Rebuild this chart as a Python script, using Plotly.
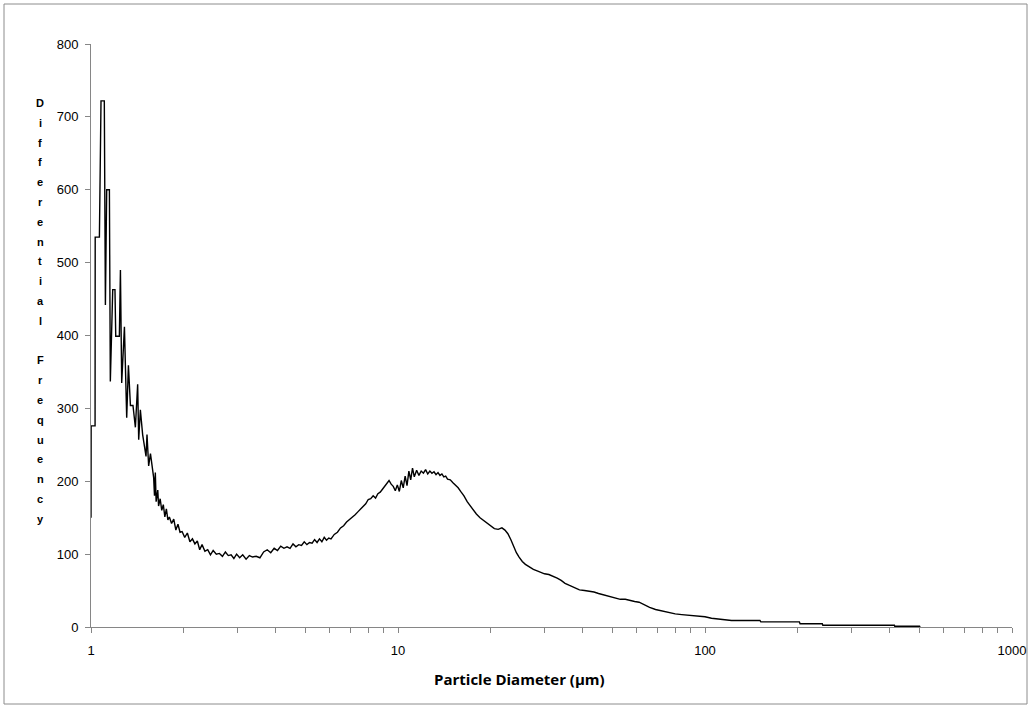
import plotly.graph_objects as go

# Particle diameter (µm) and differential frequency
diameter = [
    1.000, 1.001, 1.031, 1.032, 1.065, 1.078, 1.105, 1.114, 1.125, 1.148,
    1.156, 1.177, 1.197, 1.204, 1.237, 1.247, 1.259, 1.285, 1.307, 1.324,
    1.344, 1.370, 1.395, 1.419, 1.430, 1.448, 1.473, 1.511, 1.522, 1.541,
    1.562, 1.589,
    1.60, 1.61, 1.62, 1.63, 1.65, 1.66, 1.68, 1.70, 1.72, 1.74,
    1.76, 1.78, 1.80, 1.83, 1.86, 1.89, 1.92, 1.95, 1.98, 2.02,
    2.06, 2.10, 2.14, 2.18, 2.22, 2.26, 2.30, 2.35, 2.40, 2.45,
    2.50, 2.56, 2.62, 2.68, 2.74, 2.80, 2.86, 2.92, 2.98, 3.05,
    3.12, 3.20, 3.28, 3.36, 3.45, 3.55, 3.65, 3.75, 3.85, 3.95,
    4.05, 4.15, 4.25, 4.35, 4.45, 4.55, 4.65, 4.75, 4.85, 4.95,
    5.05, 5.15, 5.25, 5.35, 5.45, 5.55, 5.65, 5.75, 5.85, 5.95,
    6.05, 6.20, 6.35, 6.50, 6.65, 6.80, 6.95, 7.10, 7.25, 7.40,
    7.55, 7.70, 7.85, 8.00, 8.15, 8.30, 8.45, 8.60, 8.75, 8.90,
    9.05, 9.20, 9.35, 9.50, 9.65, 9.80, 9.95, 10.1, 10.25, 10.4,
    10.55, 10.7, 10.85, 11.0, 11.15, 11.3, 11.5, 11.7, 11.9, 12.1,
    12.3, 12.5, 12.7, 12.9, 13.1, 13.3, 13.5, 13.7, 13.9, 14.1,
    14.3, 14.5, 14.8, 15.1, 15.4, 15.7, 16.0, 16.4, 16.8, 17.2,
    17.6, 18.0, 18.5, 19.0, 19.5, 20.0, 20.6, 21.2, 21.8, 22.3,
    22.8, 23.3, 23.8, 24.3, 24.8, 25.4, 26.0, 26.8, 27.6, 28.4,
    29.2, 30.0, 31.0, 32.0, 33.0, 34.0, 35.0, 36.2, 37.5, 39.0,
    40.5, 42.0, 43.5, 45.0, 47.0, 49.0, 51.0, 53.0, 55.0, 57.0,
    59.0, 61.0, 63.0, 66.0, 69.0, 72.0, 76.0, 80.0, 84.0, 90.0,
    95.0, 100.0, 105.0, 110.0, 121.0, 122.0, 151.0, 152.0, 203.0, 204.0,
    241.0, 242.0, 414.0, 415.0, 500.0, 502.0,
]
frequency = [
    150, 276, 276, 535, 535, 722, 722, 442, 600, 600,
    337, 463, 463, 399, 399, 490, 335, 412, 287, 359,
    304, 304, 274, 333, 257, 298, 264, 234, 264, 221,
    238, 208,
    205, 180, 212, 172, 188, 166, 176, 160, 168, 151,
    162, 147, 151, 142, 148, 133, 141, 130, 131, 123,
    129, 117, 121, 114, 118, 106, 113, 104, 106, 99,
    105, 100, 101, 97, 103, 98, 99, 94, 100, 95,
    99, 93, 98, 96, 97, 95, 103, 106, 102, 108,
    105, 111, 108, 110, 108, 114, 110, 113, 112, 117,
    113, 116, 115, 120, 116, 121, 117, 123, 119, 122,
    121, 127, 130, 136, 139, 144, 147, 151, 154, 158,
    162, 166, 169, 175, 176, 180, 177, 183, 185, 189,
    193, 196, 201, 196, 193, 187, 195, 186, 201, 191,
    207, 194, 214, 202, 218, 206, 215, 208, 214, 211,
    216, 210, 214, 211, 213, 209, 212, 208, 210, 206,
    207, 203, 202, 198, 195, 191, 186, 180, 172, 166,
    160, 155, 150, 146, 142, 139, 135, 134, 136, 133,
    128, 120, 110, 102, 96, 90, 86, 82, 79, 77,
    75, 73, 72, 70, 67, 64, 60, 57, 54, 51,
    50, 49, 48, 46, 44, 42, 40, 38, 38, 37,
    35, 34, 31, 27, 24, 22, 20, 18, 17, 16,
    15, 14, 12, 11, 9, 9, 9, 7, 7, 4.5,
    4.5, 2.3, 2.3, 1, 1, 0,
]

y_ticks = [0, 100, 200, 300, 400, 500, 600, 700, 800]
x_major = [1, 10, 100, 1000]
x_minor_digits = [2, 3, 4, 5, 6, 7, 8, 9]
x_title = "Particle Diameter (μm)"
y_title = "Differential Frequency"

# layout geometry (pixels)
W, H = 1031, 708
L, T, R, B = 91, 44, 1012, 627
pw, ph = R - L, B - T


def px(x):
    return (x - L) / pw


def py(y):
    return (B - y) / ph


tickvals = []
ticktext = []
for d in x_major:
    tickvals.append(d)
    ticktext.append(str(d))
    if d < 1000:
        for k in x_minor_digits:
            tickvals.append(d * k)
            ticktext.append("")

axis_color = "#868686"
font_family = "Liberation Sans, Arial, sans-serif"

fig = go.Figure()
fig.add_trace(go.Scatter(
    x=diameter, y=frequency, mode="lines",
    line=dict(color="#000000", width=1.4),
    hoverinfo="x+y", showlegend=False,
))

fig.update_layout(
    width=W, height=H,
    margin=dict(l=L, r=W - R, t=T, b=H - B, pad=0, autoexpand=False),
    paper_bgcolor="white", plot_bgcolor="white",
    font=dict(family=font_family, size=12, color="#000000"),
    xaxis=dict(
        type="log", range=[0, 3], automargin=False,
        tickmode="array", tickvals=tickvals, ticktext=ticktext,
        ticks="outside", ticklen=5, tickcolor=axis_color, tickwidth=1,
        showline=True, linecolor=axis_color, linewidth=1,
        showgrid=False, zeroline=False,
        tickfont=dict(size=13, family=font_family, color="#000000"),
        ticklabelstandoff=6,
    ),
    yaxis=dict(
        range=[0, 800], tickmode="array", tickvals=y_ticks, automargin=False,
        ticks="outside", ticklen=5, tickcolor=axis_color, tickwidth=1,
        showline=True, linecolor=axis_color, linewidth=1,
        showgrid=False, zeroline=False,
        tickfont=dict(size=13, family=font_family, color="#000000"),
        ticklabelstandoff=4,
    ),
    shapes=[dict(
        type="rect", xref="paper", yref="paper",
        x0=px(4), x1=px(1027), y0=py(704), y1=py(4),
        line=dict(color="#8c8c8c", width=1), fillcolor="rgba(0,0,0,0)",
        layer="below",
    )],
)

annotations = [dict(
    text="<b>" + x_title + "</b>", xref="paper", yref="paper",
    x=px(519), y=py(679), xanchor="center", yanchor="middle",
    showarrow=False, font=dict(size=15, family="Open Sans, sans-serif", color="#000000"),
)]
for i, ch in enumerate(y_title):
    if ch == " ":
        continue
    annotations.append(dict(
        text="<b>" + ch + "</b>", xref="paper", yref="paper",
        x=px(40), y=py(103 + i * 19.8), xanchor="center", yanchor="middle",
        showarrow=False, font=dict(size=11, family=font_family, color="#000000"),
    ))
fig.update_layout(annotations=annotations)

fig.write_html("out.html")
